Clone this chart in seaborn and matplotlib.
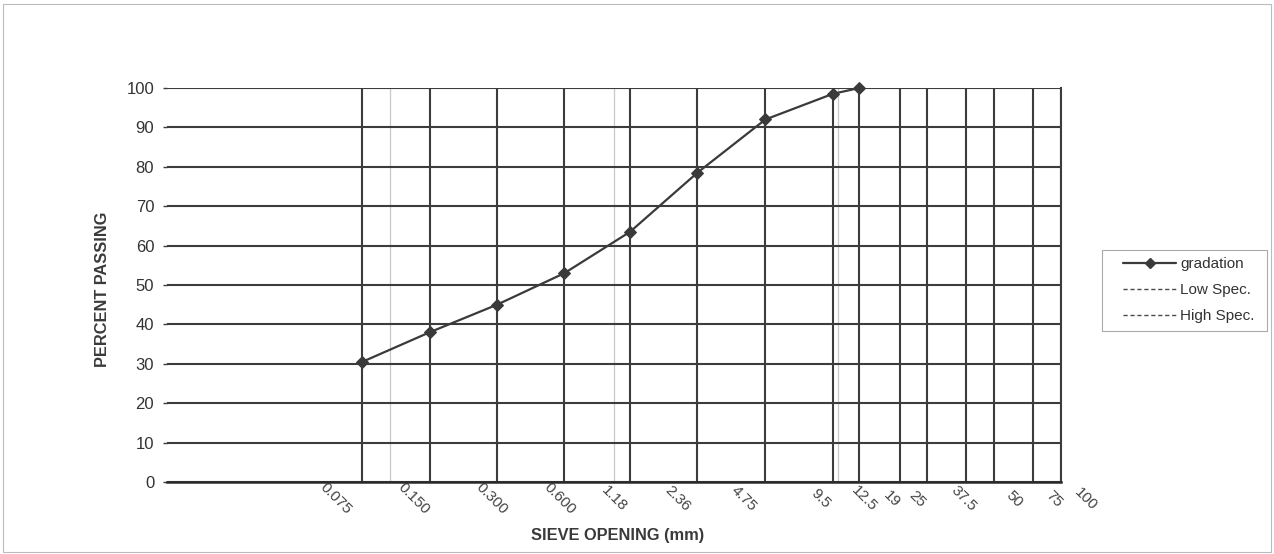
import numpy as np
import pandas as pd
import matplotlib
matplotlib.use("Agg")
import matplotlib.pyplot as plt
import matplotlib.transforms as mtransforms
from matplotlib.lines import Line2D
from matplotlib.patches import Rectangle
import seaborn as sns

# ---- data ----
sieve_mm = [0.075, 0.15, 0.3, 0.6, 1.18, 2.36, 4.75, 9.5, 12.5]
percent_passing = [30.5, 38, 45, 53, 63.5, 78.5, 92, 98.5, 100]
low_spec = []
high_spec = []
sieve_ticks = [0.075, 0.15, 0.3, 0.6, 1.18, 2.36, 4.75, 9.5, 12.5, 19, 25, 37.5, 50, 75, 100]
sieve_labels = ["0.075", "0.150", "0.300", "0.600", "1.18", "2.36", "4.75", "9.5",
                "12.5", "19", "25", "37.5", "50", "75", "100"]
decade_lines = [0.1, 1, 10]
y_ticks = list(range(0, 101, 10))

# horizontal nudge (pixels) of each rotated tick label, as placed in the original
label_nudge_px = [-27, -16, -5, -5, -16, -20, -21, -12, 5, -8, -10, -2, 20, 21, 24]

DPI = 100
W, H = 1274, 554
sns.set_theme(style="white")
plt.rcParams["font.family"] = ["Liberation Sans", "DejaVu Sans"]

fig = plt.figure(figsize=(W / DPI, H / DPI), dpi=DPI)
ax = fig.add_axes([0.1308, 0.130, 0.8331 - 0.1308, 0.8412 - 0.130])

grid_c = "#3c3c3c"
df = pd.DataFrame({"sieve": sieve_mm, "passing": percent_passing})
sns.lineplot(data=df, x="sieve", y="passing", marker="D", color="#3a3a3a",
             linewidth=1.6, markersize=6.5, markeredgecolor="#3a3a3a",
             ax=ax, legend=False, zorder=5, clip_on=False)

ax.set_xscale("log")
ax.set_xlim(0.01, 100)
ax.set_ylim(0, 100)

ax.set_xticks(sieve_ticks)
ax.set_xticklabels(sieve_labels)
ax.set_xticks(decade_lines, minor=True)
ax.set_xticklabels([], minor=True)
ax.set_yticks(y_ticks)

ax.grid(True, which="major", axis="both", color=grid_c, linewidth=1.5)
ax.grid(True, which="minor", axis="x", color="#c8c8c8", linewidth=0.9)
ax.set_axisbelow(True)

for s in ["left", "top"]:
    ax.spines[s].set_visible(False)
ax.spines["right"].set_color(grid_c)
ax.spines["right"].set_linewidth(1.5)
ax.spines["bottom"].set_color("#2a2a2a")
ax.spines["bottom"].set_linewidth(1.8)

ax.tick_params(axis="y", which="major", length=3, width=1, color=grid_c,
               labelsize=12, labelcolor="#333333", pad=6, left=True)
ax.tick_params(axis="x", which="both", length=0, labelsize=11,
               labelcolor="#444444", pad=0)

for lab, dx in zip(ax.get_xticklabels(), label_nudge_px):
    lab.set_rotation(-45)
    lab.set_ha("center")
    lab.set_va("center")
    lab.set_rotation_mode("anchor")
    off = mtransforms.ScaledTranslation(dx / DPI, -17 / DPI, fig.dpi_scale_trans)
    lab.set_transform(lab.get_transform() + off)

ax.set_xlabel("SIEVE OPENING (mm)", fontsize=11.8, fontweight="bold",
              color="#3a3a3a", va="center")
ax.xaxis.set_label_coords((618 - 166.7) / 894.7, (482 - 536) / 394)
ax.set_ylabel("PERCENT PASSING", fontsize=11.8, fontweight="bold",
              color="#3a3a3a", va="center")
ax.yaxis.set_label_coords((102.5 - 166.7) / 894.7, 0.49)

handles = [
    Line2D([], [], color="#3a3a3a", lw=1.6, marker="D", markersize=5.5),
    Line2D([], [], color="#4a4a4a", lw=1.0, linestyle=(0, (3, 2))),
    Line2D([], [], color="#4a4a4a", lw=1.0, linestyle=(0, (3, 2))),
]
leg = fig.legend(handles, ["gradation", "Low Spec.", "High Spec."],
                 loc="upper left", bbox_to_anchor=(1123 / W, 1 - 257 / H),
                 frameon=False, fontsize=11,
                 handlelength=3.5, handletextpad=0.25, labelspacing=0.8,
                 borderpad=0, borderaxespad=0)
for t in leg.get_texts():
    t.set_color("#333333")

# legend box outline
fig.patches.append(Rectangle((1102 / W, 1 - 331 / H), 165 / W, 81 / H,
                             transform=fig.transFigure, fill=False,
                             edgecolor="#aaaaaa", linewidth=0.8))
# chart area outline
fig.patches.append(Rectangle((0.002, 0.004), 0.996, 0.988, transform=fig.transFigure,
                             fill=False, edgecolor="#bbbbbb", linewidth=0.8))

fig.savefig("out.png", dpi=DPI, facecolor="white")
